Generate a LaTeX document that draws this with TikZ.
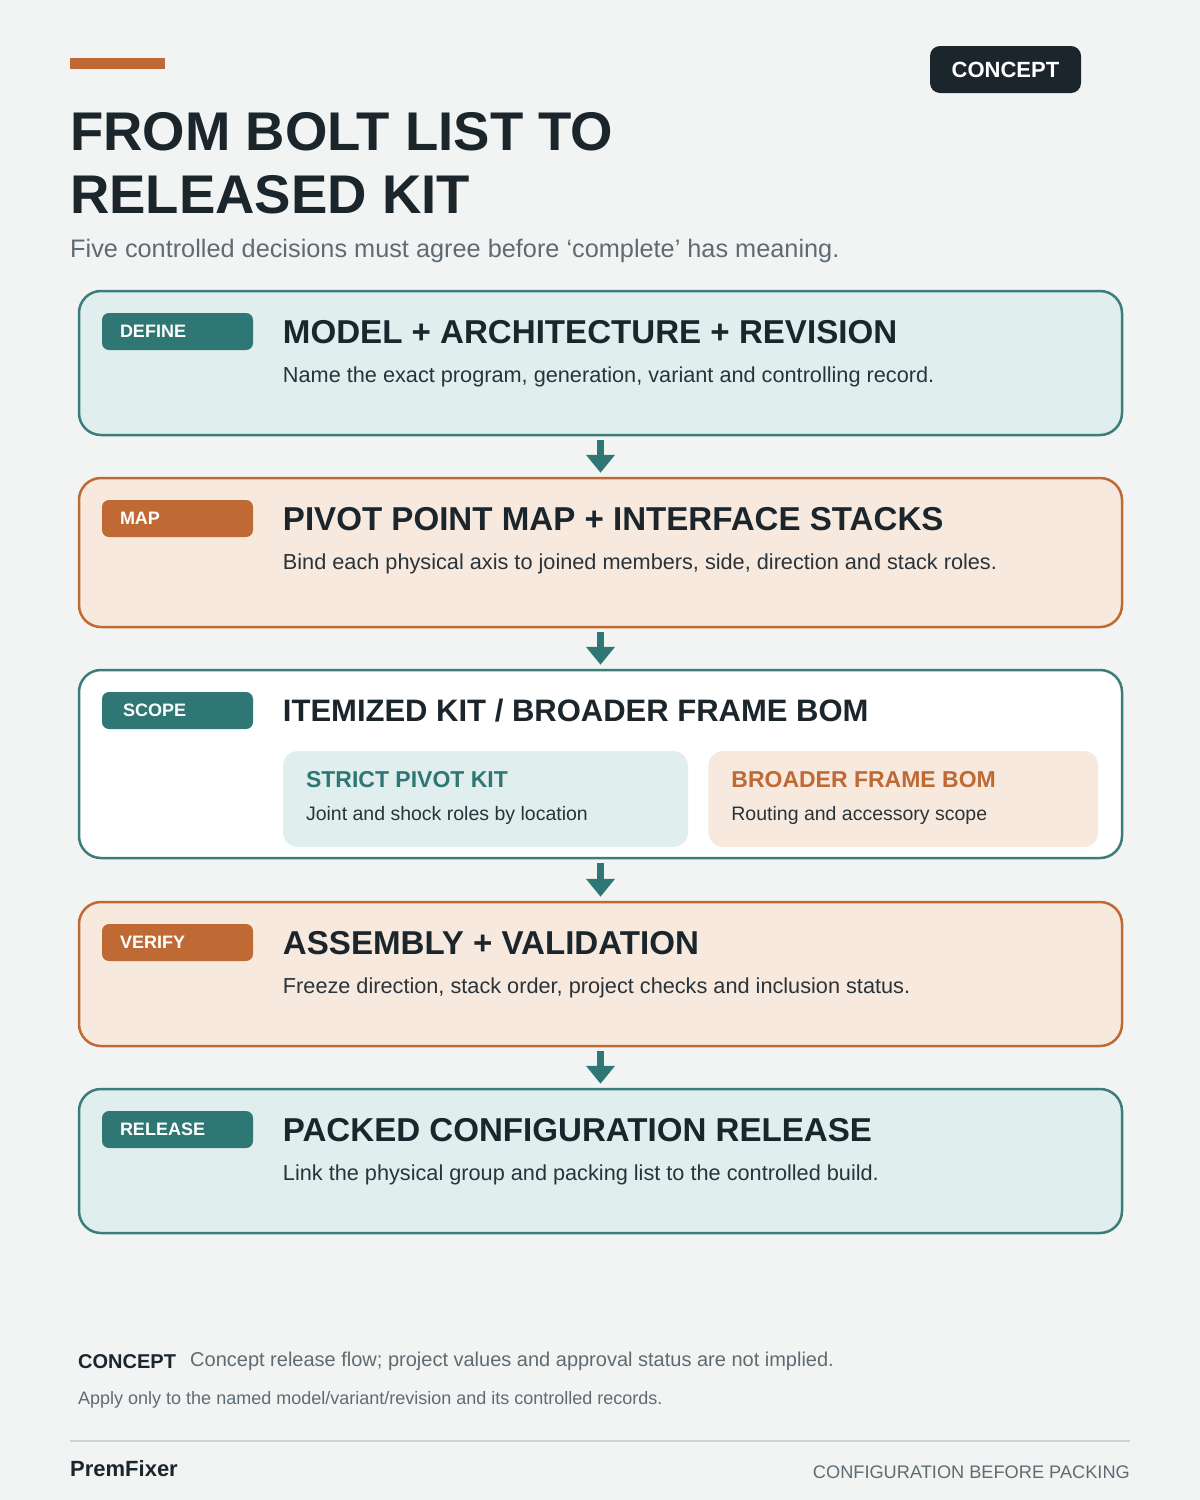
\documentclass[tikz,border=0pt]{standalone}
\usepackage{fontspec}
\setmainfont{Liberation Sans}
\usepackage{tikz}
\usetikzlibrary{positioning,arrows.meta}

\definecolor{pagebg}{HTML}{F2F4F3}
\definecolor{ink}{HTML}{1B252C}
\definecolor{bodyink}{HTML}{2A3339}
\definecolor{muted}{HTML}{5F6B73}
\definecolor{tealdark}{HTML}{2E7774}
\definecolor{tealline}{HTML}{3A7D7B}
\definecolor{tealfill}{HTML}{E1EEEE}
\definecolor{rust}{HTML}{BF6A35}
\definecolor{rustfill}{HTML}{F7E9DD}
\definecolor{rulegray}{HTML}{CFD3D3}

\tikzset{
  stage/.style={draw, line width=2.5pt, rounded corners=22pt, minimum width=1043pt, inner sep=0pt},
  tealstage/.style={stage, draw=tealline, fill=tealfill},
  ruststage/.style={stage, draw=rust, fill=rustfill},
  whitestage/.style={stage, draw=tealline, fill=white},
  badge/.style={rounded corners=7pt, minimum height=37pt, text width=115pt, inner xsep=18pt,
    inner ysep=0pt, align=left, text=white, font=\fontsize{18}{20}\selectfont\bfseries},
  tealbadge/.style={badge, fill=tealdark},
  rustbadge/.style={badge, fill=rust},
  head/.style={anchor=base west, inner sep=0pt, text=ink, font=\fontsize{33.1}{38}\selectfont\bfseries},
  desc/.style={anchor=base west, inner sep=0pt, text=bodyink, font=\fontsize{21.7}{24}\selectfont},
  subbox/.style={rounded corners=15pt, minimum height=96pt, inner sep=0pt},
  subhead/.style={anchor=base west, inner sep=0pt, font=\fontsize{23}{28}\selectfont\bfseries},
  subdesc/.style={anchor=base west, inner sep=0pt, text=bodyink, font=\fontsize{19.5}{22}\selectfont},
  flow/.style={draw=tealdark, line width=7pt, shorten <=4pt, shorten >=4pt,
    -{Triangle[width=28pt,length=18pt]}},
}

\begin{document}
\begin{tikzpicture}[x=1pt, y=-1pt]
  \fill[pagebg] (0,0) rectangle (1200,1500);
  \useasboundingbox (0,0) rectangle (1200,1500);

  % header
  \fill[rust] (70,58) rectangle (165,69);
  \node[fill=ink, rounded corners=10pt, minimum width=151pt, minimum height=47pt, inner sep=0pt,
    text=white, font=\fontsize{22}{24}\selectfont\bfseries] (tag) at (1005.5,69.5) {CONCEPT};
  \node[anchor=base west, inner sep=0pt, text=ink, font=\fontsize{54.5}{63}\selectfont\bfseries]
    (title1) at (70,150) {FROM BOLT LIST TO};
  \node[anchor=base west, inner sep=0pt, text=ink, font=\fontsize{54.5}{63}\selectfont\bfseries]
    (title2) at (70,213) {RELEASED KIT};
  \node[anchor=base west, inner sep=0pt, text=muted, font=\fontsize{25.3}{28}\selectfont]
    (subtitle) at (70,257) {Five controlled decisions must agree before ‘complete’ has meaning.};

  % stages
  \node[tealstage, minimum height=144pt] (box1) at (600.5,363) {};
  \node[ruststage, minimum height=149pt] (box2) at (600.5,552.5) {};
  \node[whitestage, minimum height=188pt] (box3) at (600.5,764) {};
  \node[ruststage, minimum height=144pt] (box4) at (600.5,974) {};
  \node[tealstage, minimum height=144pt] (box5) at (600.5,1161) {};

  \node[tealbadge] (define) at (177.5,331.5) {DEFINE};
  \node[rustbadge] (map) at (177.5,518.5) {MAP};
  \node[tealbadge] (scope) at (177.5,710.5) {\hspace*{3pt}SCOPE};
  \node[rustbadge] (verify) at (177.5,942.5) {VERIFY};
  \node[tealbadge] (release) at (177.5,1129.5) {RELEASE};

  \node[head] (head1) at ([shift={(205pt,-54pt)}]box1.north west) {MODEL + ARCHITECTURE + REVISION};
  \node[desc] (desc1) at ([yshift=-39pt]head1.base west) {Name the exact program, generation, variant and controlling record.};
  \node[head] (head2) at ([shift={(205pt,-54pt)}]box2.north west) {PIVOT POINT MAP + INTERFACE STACKS};
  \node[desc] (desc2) at ([yshift=-39pt]head2.base west) {Bind each physical axis to joined members, side, direction and stack roles.};
  \node[head, font=\fontsize{31}{36}\selectfont\bfseries] (head3) at ([shift={(205pt,-53pt)}]box3.north west) {ITEMIZED KIT / BROADER FRAME BOM};
  \node[head] (head4) at ([shift={(205pt,-54pt)}]box4.north west) {ASSEMBLY + VALIDATION};
  \node[desc] (desc4) at ([yshift=-39pt]head4.base west) {Freeze direction, stack order, project checks and inclusion status.};
  \node[head] (head5) at ([shift={(205pt,-54pt)}]box5.north west) {PACKED CONFIGURATION RELEASE};
  \node[desc] (desc5) at ([yshift=-39pt]head5.base west) {Link the physical group and packing list to the controlled build.};

  % scope split
  \node[subbox, fill=tealfill, minimum width=405pt] (strict) at (485.5,799) {};
  \node[subbox, fill=rustfill, minimum width=390pt, right=20pt of strict] (broader) {};
  \node[subhead, text=tealdark] (stricthead) at ([shift={(23pt,-37pt)}]strict.north west) {STRICT PIVOT KIT};
  \node[subdesc] (strictdesc) at ([yshift=-33pt]stricthead.base west) {Joint and shock roles by location};
  \node[subhead, text=rust] (broadhead) at ([shift={(23pt,-37pt)}]broader.north west) {BROADER FRAME BOM};
  \node[subdesc] (broaddesc) at ([yshift=-33pt]broadhead.base west) {Routing and accessory scope};

  \draw[flow] (box1.south) -- (box2.north);
  \draw[flow] (box2.south) -- (box3.north);
  \draw[flow] (box3.south) -- (box4.north);
  \draw[flow] (box4.south) -- (box5.north);

  % footer
  \node[anchor=base west, inner sep=0pt, text=ink, font=\fontsize{20}{24}\selectfont\bfseries]
    (note) at (78,1368) {CONCEPT};
  \node[anchor=base west, inner sep=0pt, text=muted, font=\fontsize{20}{24}\selectfont]
    (notetext) at (190,1366) {Concept release flow; project values and approval status are not implied.};
  \node[anchor=base west, inner sep=0pt, text=muted, font=\fontsize{18}{22}\selectfont]
    (scopenote) at (78,1404) {Apply only to the named model/variant/revision and its controlled records.};
  \draw[rulegray, line width=2pt] (70,1441) -- (1130,1441);
  \node[anchor=base west, inner sep=0pt, text=ink, font=\fontsize{22}{24}\selectfont\bfseries]
    (brand) at (70,1476) {PremFixer};
  \node[anchor=base east, inner sep=0pt, text=muted, font=\fontsize{18.2}{22}\selectfont]
    (motto) at (1130,1478) {CONFIGURATION BEFORE PACKING};
\end{tikzpicture}
\end{document}
